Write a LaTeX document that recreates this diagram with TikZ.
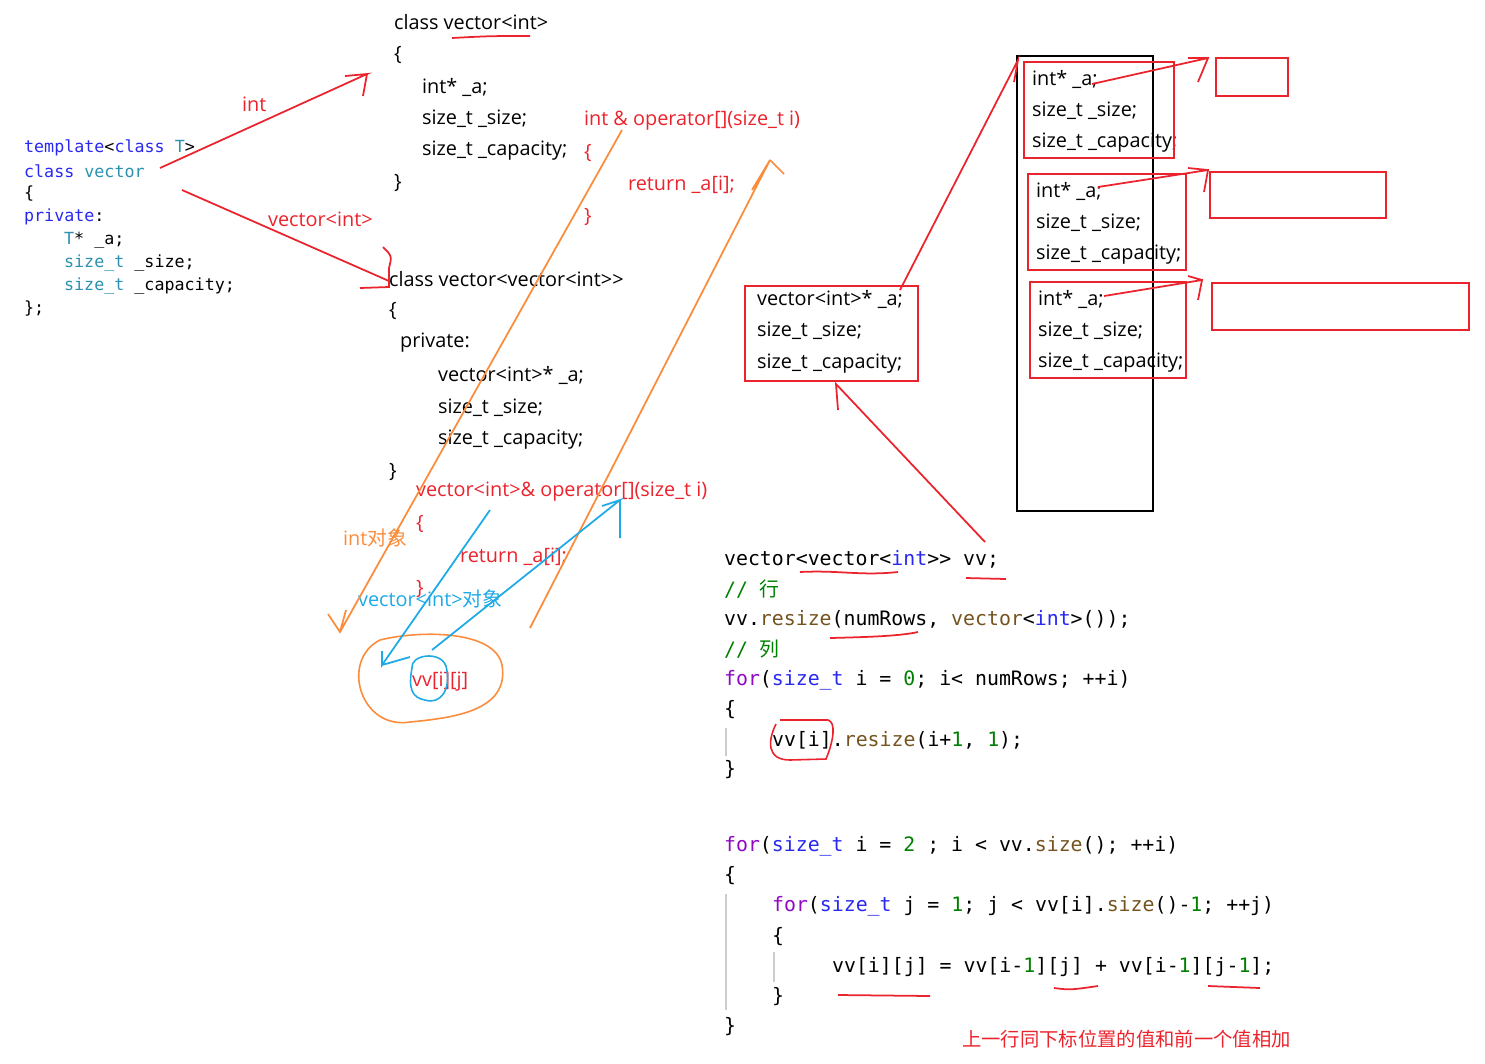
\documentclass[tikz,border=0pt]{standalone}
\usepackage{fontspec}
\setmainfont{Open Sans}
\setmonofont{DejaVu Sans Mono}
\newfontfamily\cjk{Noto Sans CJK SC}
\usetikzlibrary{calc}
\definecolor{pen}{RGB}{235,35,45}
\definecolor{hand}{RGB}{250,140,60}
\definecolor{sky}{RGB}{30,170,230}
\definecolor{kw}{RGB}{40,40,240}
\definecolor{ty}{RGB}{43,145,175}
\definecolor{num}{RGB}{0,128,0}
\definecolor{ctl}{RGB}{143,8,196}
\definecolor{fn}{RGB}{116,83,31}
\tikzset{txt/.style={anchor=west,inner sep=1pt,font=\fontsize{11.3}{14}\selectfont}}
\tikzset{rtxt/.style={txt,text=pen}}
\tikzset{code/.style={anchor=west,inner sep=1pt,font=\fontsize{11.3}{14}\ttfamily}}
\tikzset{scode/.style={anchor=west,inner sep=1pt,font=\fontsize{9.5}{12}\ttfamily}}
\tikzset{rbox/.style={draw=pen,line width=1.2pt}}
\tikzset{rline/.style={draw=pen,line width=1pt}}
\tikzset{oline/.style={draw=hand,line width=1pt}}
\tikzset{bline/.style={draw=sky,line width=1pt}}
\begin{document}
\begin{tikzpicture}[x=0.02cm,y=-0.02cm]
    \useasboundingbox (0,0) rectangle (1485,1063);
    % left template
    \node[scode] (t1) at (22,148) {\textcolor{kw}{template}<\textcolor{kw}{class} \textcolor{ty}{T}>};
    \node[scode] (t2) at (22,171) {\textcolor{kw}{class} \textcolor{ty}{vector}};
    \node[scode] (t3) at (22,194) {\{};
    \node[scode] (t4) at (22,217) {\textcolor{kw}{private}:};
    \node[scode] (t5) at (62,240) {\textcolor{ty}{T}* \_a;};
    \node[scode] (t6) at (62,263) {\textcolor{ty}{size\_t} \_size;};
    \node[scode] (t7) at (62,286) {\textcolor{ty}{size\_t} \_capacity;};
    \node[scode] (t8) at (22,309) {\};};
    % class vector<int>
    \node[txt] (a1) at (392,22) {class vector<int>};
    \node[txt] (a2) at (392,55) {\{};
    \node[txt] (a3) at (420,87) {int* \_a;};
    \node[txt] (a4) at (420,119) {size\_t \_size;};
    \node[txt] (a5) at (420,151) {size\_t \_capacity;};
    \node[txt] (a6) at (392,183) {\}};
    \node[rtxt] (o1) at (582,121) {int \& operator[](size\_t i)};
    \node[rtxt] (o2) at (582,153) {\{};
    \node[rtxt] (o3) at (626,185) {return \_a[i];};
    \node[rtxt] (o4) at (582,217) {\}};
    % class vector<vector<int>>
    \node[txt] (b1) at (387,279) {class vector<vector<int>{}>};
    \node[txt] (b2) at (387,311) {\{};
    \node[txt] (b3) at (398,343) {private:};
    \node[txt] (b4) at (436,375) {vector<int>* \_a;};
    \node[txt] (b5) at (436,408) {size\_t \_size;};
    \node[txt] (b6) at (436,440) {size\_t \_capacity;};
    \node[txt] (b7) at (387,472) {\}};
    \node[rtxt] (p1) at (414,492) {vector<int>\& operator[](size\_t i)};
    \node[rtxt] (p2) at (414,524) {\{};
    \node[rtxt] (p3) at (458,557) {return \_a[i];};
    \node[rtxt] (p4) at (414,589) {\}};
    \node[rtxt] (lint) at (240,104) {int};
    \node[rtxt] (lvec) at (266,219) {vector<int>};
    \node[txt,text=hand] (lobj) at (341,538) {int{\cjk 对象}};
    \node[txt,text=sky] (lvobj) at (356,599) {vector<int>{\cjk 对象}};
    \node[txt,text=pen] (vvij) at (410,682) {vv[i][j]};
    % underlines in the upper block
    \draw[rline] (452,38) .. controls (490,36) .. (530,36);
    \draw[rline] (383,247) .. controls (392,256) .. (389,268) -- (389,287) -- (360,288);
    % red arrows from template
    \coordinate (e1) at (160,168);
    \coordinate (e2) at (367,74);
    \draw[rline] (e1) -- (e2) -- +(-22,2) (e2) -- +(-4,22);
    \coordinate (f1) at (182,190);
    \coordinate (f2) at (389,281);
    \draw[rline] (f1) -- (f2);
    % orange lines
    \coordinate (g1) at (622,130);
    \coordinate (g2) at (340,632);
    \draw[oline] (g1) -- (g2) -- +(-12,-18) (g2) -- +(6,-22);
    \coordinate (h1) at (530,628);
    \coordinate (h2) at (770,160);
    \draw[oline] (h1) -- (h2) -- +(-18,30) (h2) -- +(14,14);
    \draw[hand,line width=0.9pt] (380,640) .. controls (340,660) and (360,730) .. (410,722) .. controls (450,718) and (510,712) .. (502,665) .. controls (495,630) and (420,630) .. (380,640);
    % blue lines
    \coordinate (k1) at (490,510);
    \coordinate (k2) at (382,665);
    \draw[bline] (k1) -- (k2) -- +(0,-14) (k2) -- +(28,-8);
    \coordinate (m1) at (432,650);
    \coordinate (m2) at (620,500);
    \draw[bline] (m1) -- (m2) -- +(-18,6) (m2) -- +(0,38);
    \draw[sky,line width=0.9pt] (412,668) .. controls (410,655) and (440,650) .. (446,666) .. controls (452,690) and (440,705) .. (425,700) .. controls (412,698) and (408,688) .. (412,668);
    % middle vector<int>* box
    \node[txt] (c1) at (755,299) {vector<int>* \_a;};
    \node[txt] (c2) at (755,331) {size\_t \_size;};
    \node[txt] (c3) at (755,364) {size\_t \_capacity;};
    \draw[rbox] (745,286) rectangle (918,381);
    % big black column
    \draw[line width=1.2pt] (1017,56) rectangle (1153,511);
    \foreach \y/\w/\x/\n in {62/150/1024/r1,174/158/1028/r2,282/156/1030/r3}{
      \node[txt] (\n a) at (\x+6,\y+17) {int* \_a;};
      \node[txt] (\n b) at (\x+6,\y+49) {size\_t \_size;};
      \node[txt] (\n c) at (\x+6,\y+81) {size\_t \_capacity;};
      \draw[rbox] (\x,\y) rectangle (\x+\w,\y+96);
    }
    \draw[rbox] (1216,58) rectangle (1288,96);
    \draw[rbox] (1210,172) rectangle (1386,218);
    \draw[rbox] (1212,283) rectangle (1469,330);
    % pointers
    \coordinate (q1) at (900,290);
    \coordinate (q2) at (1018,60);
    \draw[rline] (q1) -- (q2) -- +(-4,22);
    \coordinate (s1) at (1092,84);
    \coordinate (s2) at (1208,58);
    \draw[rline] (s1) -- (s2) -- +(-10,24) (s2) -- +(-20,0);
    \coordinate (s3) at (1098,187);
    \coordinate (s4) at (1208,170);
    \draw[rline] (s3) -- (s4) -- +(-4,22) (s4) -- +(-20,-2);
    \coordinate (s5) at (1104,296);
    \coordinate (s6) at (1202,280);
    \draw[rline] (s5) -- (s6) -- +(-4,20) (s6) -- +(-14,-4);
    \coordinate (u1) at (985,542);
    \coordinate (u2) at (836,384);
    \draw[rline] (u1) -- (u2) -- +(2,26);
    % bottom code
    \node[code] (d1) at (722,559) {vector<vector<\textcolor{kw}{int}>{}> vv;};
    \node[code,text=num] (d2) at (722,589) {// {\cjk 行}};
    \node[code] (d3) at (722,619) {vv.\textcolor{fn}{resize}(numRows, \textcolor{fn}{vector}<\textcolor{kw}{int}>());};
    \node[code,text=num] (d4) at (722,649) {// {\cjk 列}};
    \node[code] (d5) at (722,680) {\textcolor{ctl}{for}(\textcolor{kw}{size\_t} i = \textcolor{num}{0}; i< numRows; ++i)};
    \node[code] (d6) at (722,710) {\{};
    \node[code] (d7) at (770,740) {vv[i].\textcolor{fn}{resize}(i+\textcolor{num}{1}, \textcolor{num}{1});};
    \node[code] (d8) at (722,770) {\}};
    \node[code] (e1t) at (722,846) {\textcolor{ctl}{for}(\textcolor{kw}{size\_t} i = \textcolor{num}{2} ; i < vv.\textcolor{fn}{size}(); ++i)};
    \node[code] (e2t) at (722,876) {\{};
    \node[code] (e3t) at (770,906) {\textcolor{ctl}{for}(\textcolor{kw}{size\_t} j = \textcolor{num}{1}; j < vv[i].\textcolor{fn}{size}()-\textcolor{num}{1}; ++j)};
    \node[code] (e4t) at (770,937) {\{};
    \node[code] (e5t) at (830,967) {vv[i][j] = vv[i-\textcolor{num}{1}][j] + vv[i-\textcolor{num}{1}][j-\textcolor{num}{1}];};
    \node[code] (e6t) at (770,997) {\}};
    \node[code] (e7t) at (722,1027) {\}};
    \node[anchor=west,inner sep=1pt,text=pen,font=\fontsize{11}{14}\cjk] (note) at (960,1039) {上一行同下标位置的值和前一个值相加};
    \draw[gray!40,line width=0.8pt] (726,728) -- (726,756) (726,894) -- (726,1010) (774,952) -- (774,982);
    % red underlines / circle in code
    \draw[rline] (800,572) .. controls (840,570) and (860,576) .. (898,572);
    \draw[rline] (966,578) -- (1006,579);
    \draw[rline] (830,638) .. controls (870,637) and (900,636) .. (918,632);
    \draw[rline] (838,995) -- (930,996);
    \draw[rline] (1054,988) .. controls (1070,990) .. (1098,986);
    \draw[rline] (1208,986) -- (1260,988);
    \draw[pen,line width=0.9pt] (776,724) .. controls (768,740) and (766,760) .. (790,760) -- (826,759) .. controls (834,740) and (836,722) .. (828,720) -- (780,720);
\end{tikzpicture}
\end{document}
